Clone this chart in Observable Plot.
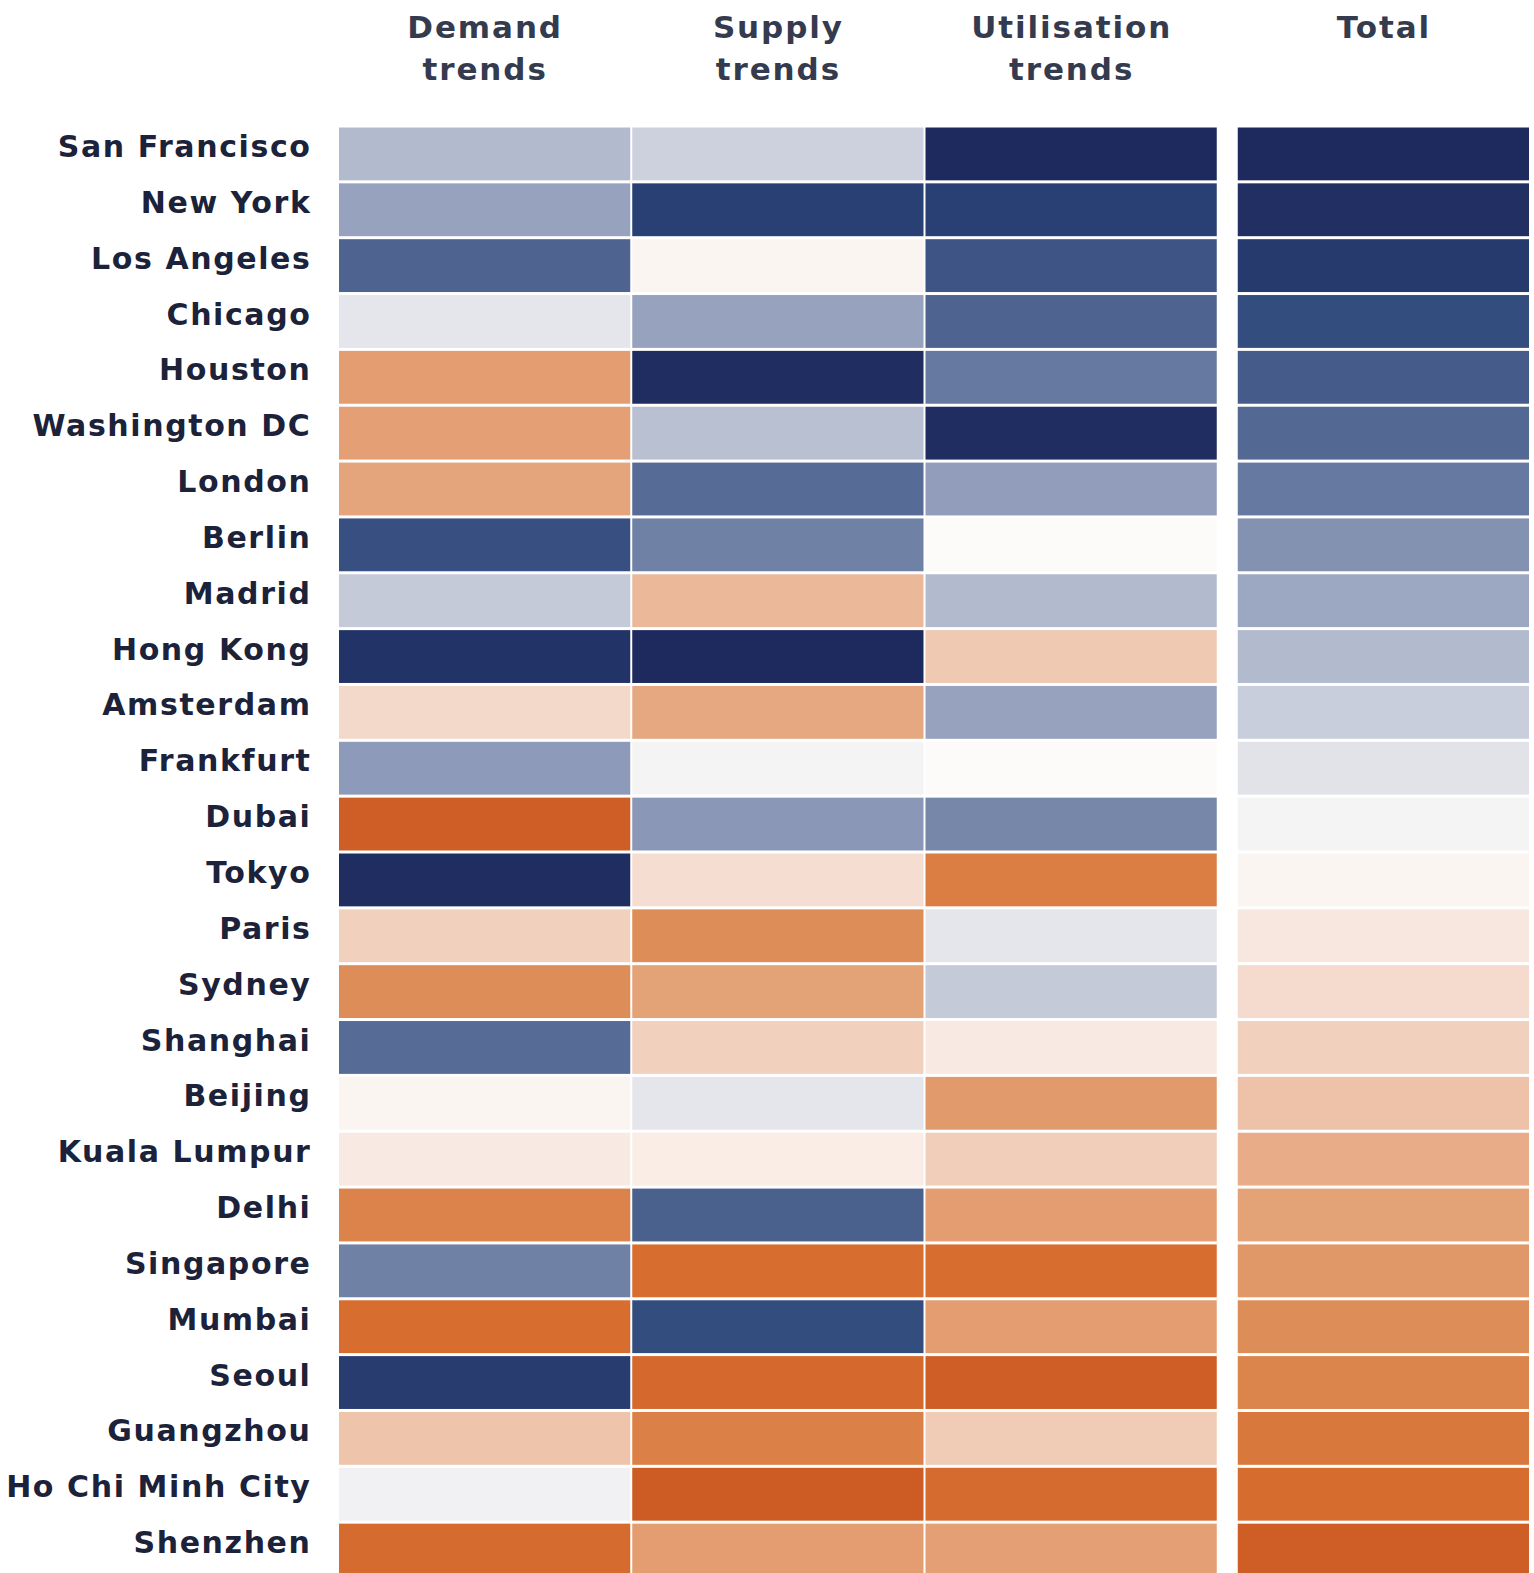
<!DOCTYPE html>
<html>
<head>
<meta charset="utf-8">
<script src="https://cdn.jsdelivr.net/npm/d3@7"></script>
<script src="https://cdn.jsdelivr.net/npm/@observablehq/plot@0.6"></script>
<style>
  html, body { margin: 0; padding: 0; background: #ffffff; overflow: hidden; }
  #chart svg { display: block; max-width: none; }
  #chart g[aria-label="text"] { letter-spacing: 1.9px; }
</style>
</head>
<body>
<div id="chart"></div>
<script>
// Data: score from -1 (strongest blue) to +1 (strongest orange)
const cities = ["San Francisco","New York","Los Angeles","Chicago","Houston","Washington DC","London","Berlin","Madrid","Hong Kong","Amsterdam","Frankfurt","Dubai","Tokyo","Paris","Sydney","Shanghai","Beijing","Kuala Lumpur","Delhi","Singapore","Mumbai","Seoul","Guangzhou","Ho Chi Minh City","Shenzhen"];
const columns = ["Demand trends","Supply trends","Utilisation trends","Total"];
const headerLabels = ["Demand\ntrends","Supply\ntrends","Utilisation\ntrends","Total"];
const demand      = [-0.2,-0.3,-0.55,-0.06,0.4,0.38,0.35,-0.68,-0.14,-0.92,0.12,-0.33,0.9,-0.97,0.15,0.5,-0.5,0.02,0.06,0.58,-0.42,0.75,-0.83,0.2,-0.03,0.78];
const supply      = [-0.12,-0.8,0.02,-0.3,-0.97,-0.18,-0.5,-0.42,0.25,-1,0.33,-0.02,-0.34,0.1,0.5,0.37,0.15,-0.06,0.05,-0.57,0.75,-0.7,0.8,0.6,0.92,0.4];
const utilisation = [-1,-0.8,-0.65,-0.55,-0.45,-0.97,-0.32,0,-0.2,0.18,-0.3,0,-0.4,0.62,-0.06,-0.14,0.06,0.42,0.16,0.4,0.75,0.4,0.9,0.17,0.78,0.38];
const total       = [-1,-0.95,-0.85,-0.7,-0.6,-0.52,-0.45,-0.36,-0.28,-0.2,-0.13,-0.07,-0.02,0.02,0.07,0.11,0.15,0.21,0.3,0.37,0.43,0.5,0.57,0.67,0.76,0.9];

const series = [demand, supply, utilisation];
const cells = [];
series.forEach((arr, j) => arr.forEach((v, i) => cells.push({city: cities[i], col: columns[j], value: v})));
const totalCells = total.map((v, i) => ({city: cities[i], col: columns[3], value: v}));
const headers = columns.map((c, j) => ({col: c, label: headerLabels[j]}));

const font = "'DejaVu Sans', Verdana, sans-serif";
const chart = Plot.plot({
  width: 1534,
  height: 1578,
  marginLeft: 338,
  marginRight: 23,
  marginTop: 126,
  marginBottom: 0,
  style: {fontFamily: font, background: "#ffffff", overflow: "visible", letterSpacing: "1.6px"},
  x: {domain: columns, padding: 0, round: false, axis: null},
  y: {domain: cities, padding: 0, round: false, axis: null},
  color: {
    type: "linear",
    domain: [-1, -0.75, -0.5, -0.3, -0.15, 0, 0.15, 0.3, 0.5, 0.75, 1],
    range: ["#1e2a5e", "#2c4579", "#566b95", "#97a2bf", "#c0c7d6", "#fdfbfa", "#f1d0bd", "#e8ad88", "#dd8d57", "#d76e30", "#c9521f"]
  },
  marks: [
    Plot.cell(cells, {x: "col", y: "city", fill: "value", insetTop: 1.5, insetBottom: 1.5, insetLeft: 1, insetRight: 1}),
    Plot.cell(totalCells, {x: "col", y: "city", fill: "value", dx: 19, insetTop: 1.5, insetBottom: 1.5, insetLeft: 1, insetRight: 1}),
    Plot.axisY({tickSize: 0, tickPadding: 27, dy: -7, label: null, fontSize: 30, fontWeight: 700, fill: "#1b2239"}),
    Plot.text(headers.slice(0, 3), {x: "col", text: "label", frameAnchor: "top", lineAnchor: "top", dy: -118, lineHeight: 1.35, fontSize: 31, fontWeight: 700, fill: "#353b4e"}),
    Plot.text(headers.slice(3), {x: "col", text: "label", frameAnchor: "top", lineAnchor: "top", dy: -118, dx: 19, lineHeight: 1.35, fontSize: 31, fontWeight: 700, fill: "#353b4e"})
  ]
});
document.getElementById("chart").appendChild(chart);
</script>
</body>
</html>
